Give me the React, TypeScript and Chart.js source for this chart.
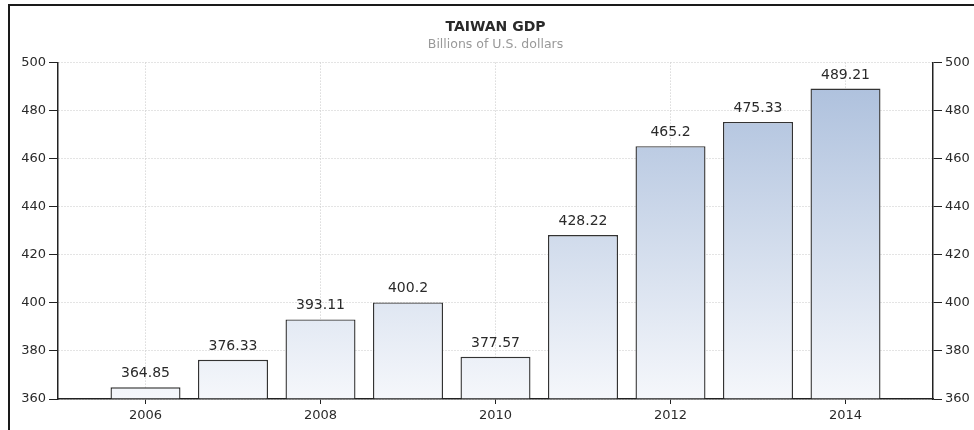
import { useEffect, useRef } from 'react';
import { Chart, registerables } from 'chart.js';

Chart.register(...registerables);

const YEARS = [2006, 2007, 2008, 2009, 2010, 2011, 2012, 2013, 2014];
const GDP = [364.85, 376.33, 393.11, 400.2, 377.57, 428.22, 465.2, 475.33, 489.21];
const X_TICKS = [2006, 2008, 2010, 2012, 2014];
const X_MIN = 2005;
const X_MAX = 2015;
const Y_MIN = 360;
const Y_MAX = 500;
const Y_STEP = 20;
const TITLE = 'TAIWAN GDP';
const SUBTITLE = 'Billions of U.S. dollars';

const FONT = '"DejaVu Sans", Verdana, sans-serif';

const valueLabels = {
  id: 'valueLabels',
  afterDatasetsDraw(chart: any) {
    const ctx = chart.ctx;
    const meta = chart.getDatasetMeta(0);
    ctx.save();
    ctx.font = `14px ${FONT}`;
    ctx.fillStyle = '#2a2a2a';
    ctx.textAlign = 'center';
    ctx.textBaseline = 'alphabetic';
    meta.data.forEach((el: any, i: number) => {
      ctx.fillText(String(GDP[i]), el.x, el.y - 10);
    });
    ctx.restore();
  },
};

export default function App() {
  const ref = useRef<HTMLCanvasElement | null>(null);

  useEffect(() => {
    if (!ref.current) return;
    const chart = new Chart(ref.current, {
      type: 'bar',
      data: {
        datasets: [
          {
            data: YEARS.map((x, i) => ({ x, y: GDP[i] })),
            base: Y_MIN,
            backgroundColor: (c: any) => {
              const a = c.chart.chartArea;
              if (!a) return '#b8c8e0';
              const g = c.chart.ctx.createLinearGradient(0, a.top, 0, a.bottom);
              g.addColorStop(0, '#a9bddb');
              g.addColorStop(1, '#f5f7fb');
              return g;
            },
            borderColor: '#333',
            borderWidth: 1.4,
            inflateAmount: 0,
            barPercentage: 0.8,
            categoryPercentage: 1,
          } as any,
        ],
      },
      options: {
        animation: false,
        responsive: false,
        layout: { padding: { top: 6, left: 0, right: 0, bottom: 0 } },
        plugins: {
          legend: { display: false },
          tooltip: { enabled: false },
          title: {
            display: true,
            text: TITLE,
            fullSize: false,
            color: '#2a2a2a',
            font: { family: FONT, size: 14, weight: 'bold' },
            padding: { top: 12.6, bottom: 0 },
          },
          subtitle: {
            display: true,
            text: SUBTITLE,
            fullSize: false,
            color: '#999',
            font: { family: FONT, size: 12.5 },
            padding: { top: 1.6, bottom: 10.6 },
          },
        },
        scales: {
          x: {
            type: 'linear',
            min: X_MIN,
            max: X_MAX,
            offset: false,
            afterBuildTicks: (s: any) => {
              s.ticks = X_TICKS.map((v) => ({ value: v }));
            },
            afterFit: (s: any) => {
              s.height = 31;
            },
            ticks: {
              color: '#2a2a2a',
              font: { family: FONT, size: 13 },
              padding: 4,
              maxRotation: 0,
              autoSkip: false,
              callback: (v: any) => String(v),
            },
            grid: { offset: false, color: '#c8c8c8', tickColor: '#222', tickLength: 5, lineWidth: 1 },
            border: { display: true, color: '#222', width: 1.5, dash: [1, 2] },
          },
          y: {
            position: 'left',
            min: Y_MIN,
            max: Y_MAX,
            afterFit: (s: any) => {
              s.width = 58;
            },
            ticks: {
              stepSize: Y_STEP,
              color: '#2a2a2a',
              font: { family: FONT, size: 13 },
              padding: 3,
            },
            grid: { color: '#c8c8c8', tickColor: '#222', tickLength: 9, lineWidth: 1 },
            border: { display: true, color: '#222', width: 1.5, dash: [1, 2] },
          },
          y2: {
            position: 'right',
            min: Y_MIN,
            max: Y_MAX,
            afterFit: (s: any) => {
              s.width = 41;
            },
            ticks: {
              stepSize: Y_STEP,
              color: '#2a2a2a',
              font: { family: FONT, size: 13 },
              padding: 3,
            },
            grid: { drawOnChartArea: false, tickColor: '#222', tickLength: 9 },
            border: { display: true, color: '#222', width: 1.5 },
          },
        } as any,
      },
      plugins: [valueLabels],
    });
    return () => chart.destroy();
  }, []);

  return (
    <div style={{ position: 'fixed', left: 0, top: 0, width: 974, height: 430, background: '#fff', overflow: 'hidden' }}>
      <canvas ref={ref} width={974} height={430} style={{ position: 'absolute', left: 0, top: 0 }} />
      <div
        style={{
          position: 'absolute',
          left: 8,
          top: 4,
          width: 980,
          height: 440,
          borderTop: '2px solid #1a1a1a',
          borderLeft: '2px solid #1a1a1a',
          pointerEvents: 'none',
        }}
      />
    </div>
  );
}
